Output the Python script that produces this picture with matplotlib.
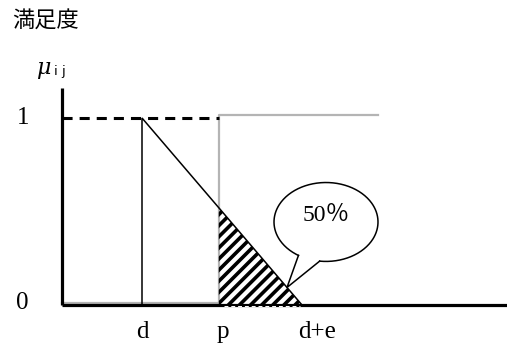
import matplotlib.pyplot as plt
import numpy as np

plt.rcParams['hatch.linewidth'] = 2.6

# data (x in units where d = 1, e = 2)
d = 1.0
e = 2.0
p = 1.96
p_top = 1.015
p_right = 3.95
x_end = 5.6
y_axis_top = 1.16
share = "50％"
x_labels = ["d", "p", "d+e"]
x_label_pos = [d, p + 0.05, d + e + 0.19]

fig = plt.figure(figsize=(5.07, 3.47), dpi=100)
ax = fig.add_axes([0, 0, 1, 1])
ax.set_xlim(-0.775, 5.5625)
ax.set_ylim(-0.2246, 1.631)
ax.axis('off')

gray = '#b4b4b4'
serif = ['Liberation Serif', 'Noto Sans CJK JP']

# membership function: vertical rise at d, linear fall to d+e
xs = np.array([d, d, d + e])
ys = np.array([0, 1, 0])
ax.plot(xs, ys, color='k', lw=1.1, solid_joinstyle='miter', zorder=4)

# hatched area between p and d+e
mu_p = 1 - (p - d) / e
ax.fill([p, p, d + e], [0, mu_p, 0], facecolor='none', edgecolor='k',
        hatch='///', linewidth=0, zorder=3)

# gray region at p
ax.plot([p, p, p_right], [0, p_top, p_top], color=gray, lw=1.6, zorder=2)
ax.plot([0, p], [0.012, 0.012], color=gray, lw=1.6, zorder=2)

# dashed level 1
ax.plot([0, p], [1, 1], color='k', lw=2.2, linestyle=(0, (3.3, 2.3)), zorder=3)

# axes
ax.plot([0, 0], [0, y_axis_top], color='k', lw=2.3, solid_capstyle='butt', zorder=5)
ax.plot([0, x_end], [0, 0], color='k', lw=2.3, solid_capstyle='butt', zorder=5)
ax.plot([p + 0.07, d + e - 0.03], [-0.003, -0.003], color='w', lw=0.7,
        linestyle=(0, (4, 3)), zorder=6)

# speech bubble
cx, cy, a, b = 3.3, 0.444, 0.65, 0.211
t = np.deg2rad(np.linspace(263, 238 + 360, 300))
ax.fill(cx + a * np.cos(t), cy + b * np.sin(t), color='w', zorder=6)
ax.plot(cx + a * np.cos(t), cy + b * np.sin(t), color='k', lw=1.1, zorder=7)
tip_x = 2.8125
tip_y = 1 - (tip_x - d) / e
t0, t1 = np.deg2rad(238), np.deg2rad(263)
ax.plot([cx + a * np.cos(t0), tip_x, cx + a * np.cos(t1)],
        [cy + b * np.sin(t0), tip_y, cy + b * np.sin(t1)],
        color='k', lw=1.1, zorder=7)
ax.text(cx, cy + 0.035, share, fontsize=17, ha='center', va='center',
        family=serif, zorder=8)

# tick labels
for lab, xp in zip(x_labels, x_label_pos):
    ax.text(xp, -0.145, lab, fontsize=18, ha='center', va='center', family=serif)
ax.text(-0.48, 1.0, "1", fontsize=18, ha='center', va='center', family=serif)
ax.text(-0.5, 0.01, "0", fontsize=18, ha='center', va='center', family=serif)

# axis titles
fig.text(0.024, 0.94, "満足度", fontsize=16, ha='left', va='center',
         family=['Noto Sans CJK JP', 'DejaVu Sans'])
ax.text(-0.24, 1.267, "μ", fontsize=16, ha='center', va='center',
        family='DejaVu Serif', style='italic')
ax.text(-0.1, 1.25, "i j", fontsize=9.5, ha='left', va='center',
        family='DejaVu Sans')

fig.savefig('out.png', dpi=100)
